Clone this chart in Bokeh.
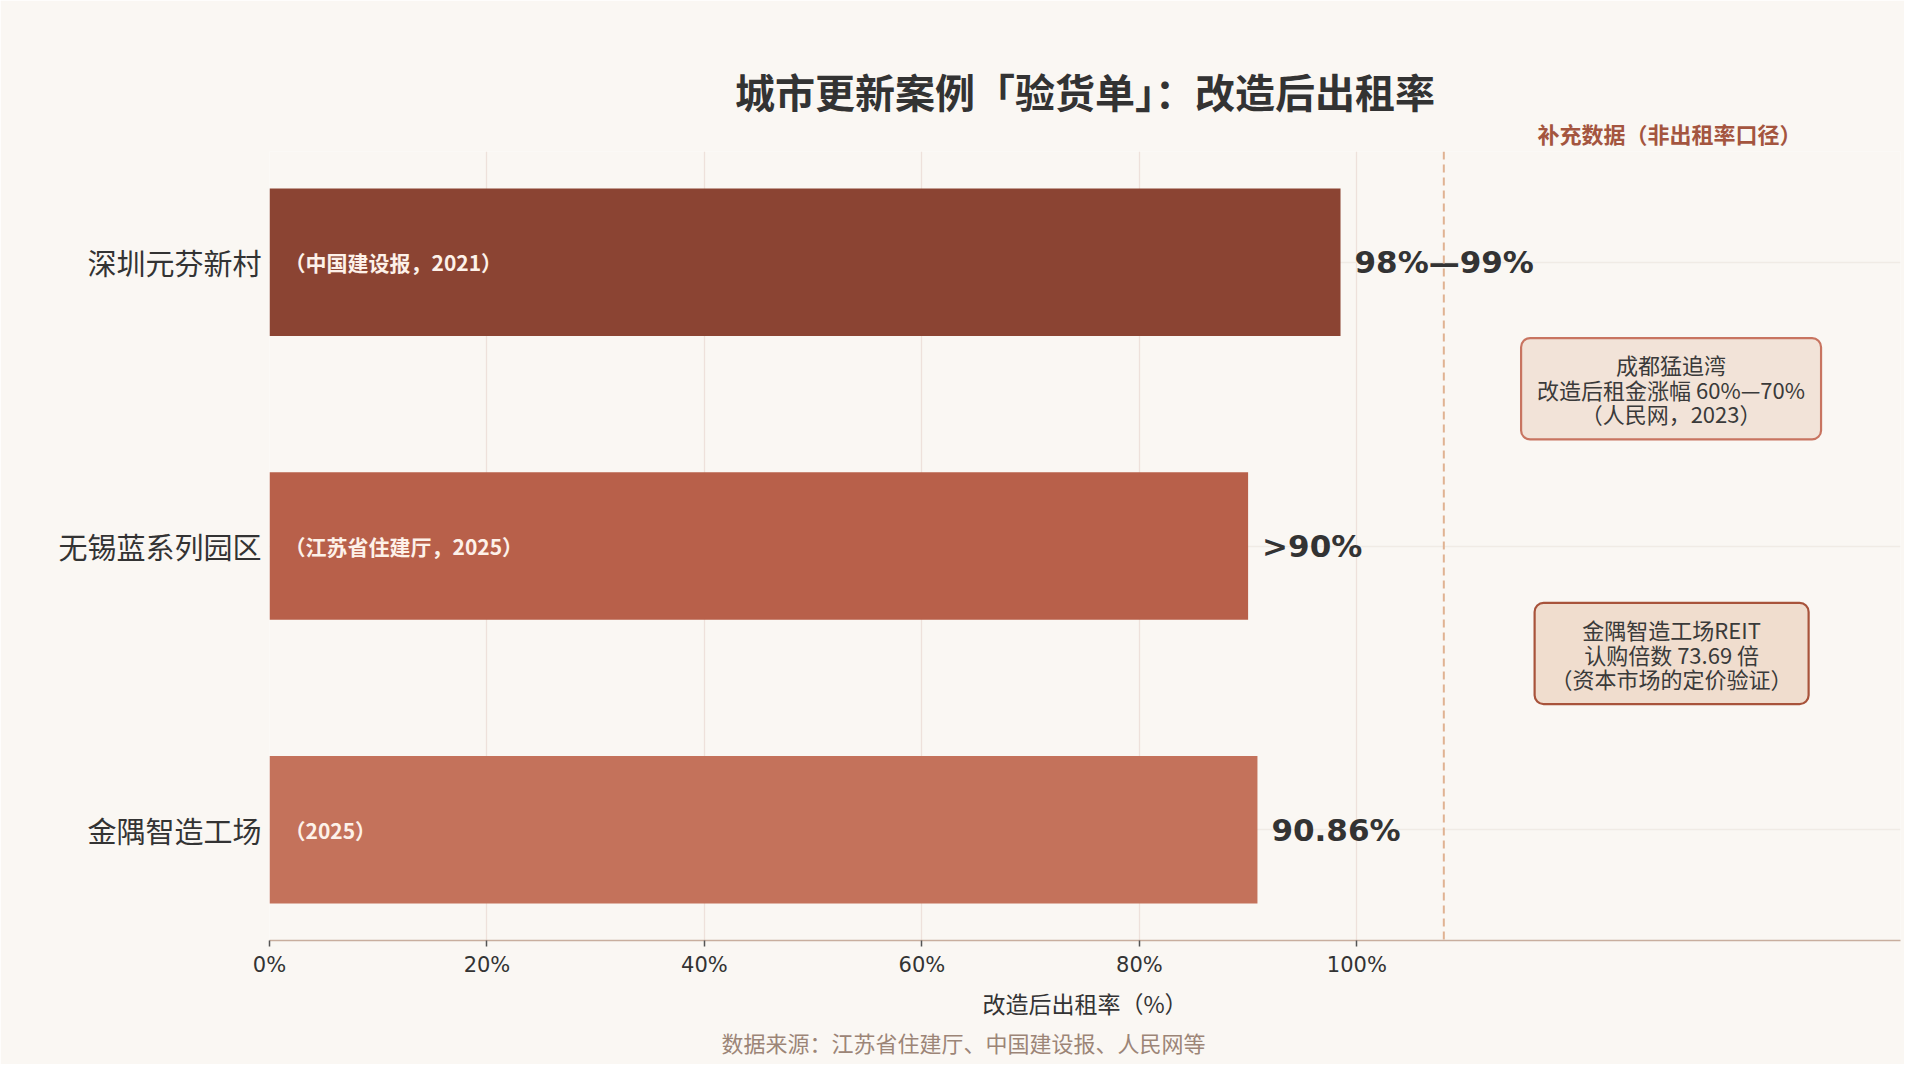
from bokeh.plotting import figure
from bokeh.models import (ColumnDataSource, FactorRange, Range1d, FixedTicker, Span,
                          Label, Title, CustomJSTickFormatter)
from bokeh.core.properties import value
from bokeh.embed import file_html
from bokeh.resources import INLINE

# ---- data ----
projects = ["深圳元芬新村", "无锡蓝系列园区", "金隅智造工场"]
rates = [98.5, 90.0, 90.86]
rate_labels = ["98%—99%", ">90%", "90.86%"]
source_notes = ["（中国建设报，2021）", "（江苏省住建厅，2025）", "（2025）"]
bar_colors = ["#8B4433", "#B8604A", "#C4725B"]
x_ticks = [0, 20, 40, 60, 80, 100]

title_text = "城市更新案例「验货单」：改造后出租率"
x_label = "改造后出租率（%）"
source_text = "数据来源：江苏省住建厅、中国建设报、人民网等"
supp_header = "补充数据（非出租率口径）"
note1 = "成都猛追湾\n改造后租金涨幅 60%—70%\n（人民网，2023）"
note2 = "金隅智造工场REIT\n认购倍数 73.69 倍\n（资本市场的定价验证）"
divider_x = 108

BG = "#FAF7F3"
CJK = "Noto Sans CJK SC"

src = ColumnDataSource(dict(project=projects, rate=rates, rate_label=rate_labels,
                            note=source_notes, color=bar_colors))

y_range = FactorRange(factors=projects[::-1], range_padding=-0.11,
                      range_padding_units="absolute")

p = figure(width=1904, height=1064, x_range=Range1d(0, 150), y_range=y_range,
           output_backend="svg", toolbar_location=None,
           min_border_left=269, min_border_right=4, min_border_top=151,
           min_border_bottom=124)
p.background_fill_color = BG
p.border_fill_color = BG
p.outline_line_color = None

# title
p.title.text = title_text
p.title.align = "center"
p.title.text_font = CJK
p.title.text_font_style = "bold"
p.title.text_font_size = "40px"
p.title.text_color = "#333333"
p.title.standoff = -17

supp = Title(text=supp_header, align="left", offset=1268, text_font=CJK,
             text_font_style="bold", text_font_size="22px", text_color="#A4553F",
             standoff=6)
p.above = [supp] + list(p.above)

# bars
p.hbar(y="project", right="rate", left=0, height=0.52, color="color",
       line_color=None, source=src)

# value labels
p.text(x="rate", y="project", text="rate_label", source=src, x_offset=14,
       text_baseline="middle", text_align="left", text_font=value("DejaVu Sans"),
       text_font_style="bold", text_font_size="31px", text_color="#333333")

# inner source notes
p.text(x=0, y="project", text="note", source=src, x_offset=15,
       text_baseline="middle", text_align="left", text_font=value(CJK),
       text_font_style="bold", text_font_size="21px", text_color="#FDF1E9")

# divider
p.add_layout(Span(location=divider_x, dimension="height", line_color="#E0B292",
                  line_width=2, line_dash="8 5"))

# supplementary notes
p.add_layout(Label(x=128.9, y=2.054, text=note1, text_align="center",
                   text_baseline="middle", text_font=CJK, text_font_size="22px",
                   text_color="#3A3A3A", text_line_height=0.77,
                   background_fill_color="#F2E3D8", border_line_color="#C87460",
                   border_line_width=2.2, border_radius=9, padding=(16, 10)))
p.add_layout(Label(x=128.95, y=1.121, text=note2, text_align="center",
                   text_baseline="middle", text_font=CJK, text_font_size="22px",
                   text_color="#3A3A3A", text_line_height=0.77,
                   background_fill_color="#F0DDCE", border_line_color="#A8533B",
                   border_line_width=2.2, border_radius=9, padding=(16, 10)))

# x axis
xa = p.xaxis[0]
xa.ticker = FixedTicker(ticks=x_ticks)
xa.formatter = CustomJSTickFormatter(code="return tick + '%';")
xa.axis_line_color = "#C8AE9E"
xa.axis_line_width = 1.6
xa.major_tick_line_color = "#555555"
xa.major_tick_line_width = 1.5
xa.major_tick_out = 6
xa.major_tick_in = 0
xa.minor_tick_line_color = None
xa.major_label_text_font = "DejaVu Sans"
xa.major_label_text_font_size = "21px"
xa.major_label_text_color = "#333333"
xa.major_label_standoff = 6
xa.axis_label = x_label
xa.axis_label_text_font = CJK
xa.axis_label_text_font_style = "normal"
xa.axis_label_text_font_size = "23px"
xa.axis_label_text_color = "#333333"
xa.axis_label_standoff = 6

# y axis
ya = p.yaxis[0]
ya.axis_line_color = None
ya.major_tick_line_color = None
ya.minor_tick_line_color = None
ya.major_tick_out = 0
ya.major_tick_in = 0
ya.major_label_standoff = 8
ya.major_label_text_font = CJK
ya.major_label_text_font_size = "29px"
ya.major_label_text_color = "#333333"

# grids
p.xgrid.grid_line_color = "#EEE1DB"
p.xgrid.grid_line_width = 1.3
p.ygrid.grid_line_color = "#F0EBE5"
p.ygrid.grid_line_width = 1.3

# source note below (centred on the whole canvas)
p.add_layout(Title(text=source_text, align="left", offset=452, text_font=CJK,
                   text_font_style="normal", text_font_size="22px",
                   text_color="#9C8577", standoff=3), "below")

open("out.html", "w").write(file_html(p, INLINE))
